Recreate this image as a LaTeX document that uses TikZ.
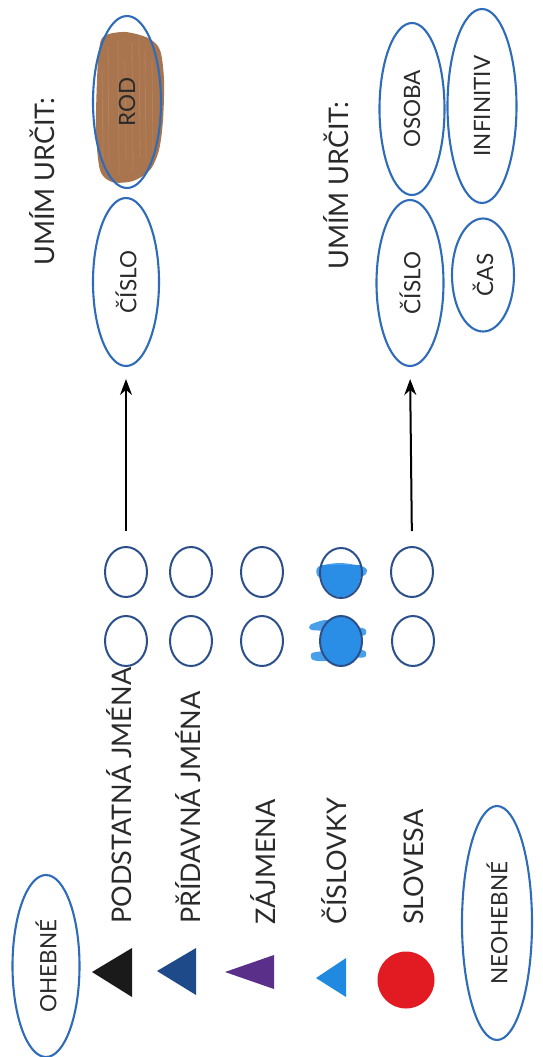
\documentclass[tikz,border=0pt]{standalone}
\usepackage{fontspec}
\setmainfont{Lato}
\usetikzlibrary{shapes.geometric,arrows.meta}
\definecolor{ellc}{HTML}{2E6BB8}
\definecolor{dotc}{HTML}{2B4F8A}
\definecolor{txt}{HTML}{2A2A2A}
\definecolor{brownc}{HTML}{A9754F}
\definecolor{brownl}{HTML}{C9987A}
\definecolor{triA}{HTML}{1A1A1A}
\definecolor{triB}{HTML}{1F4A8A}
\definecolor{triC}{HTML}{5A2F8A}
\definecolor{triD}{HTML}{1F8AE0}
\definecolor{redc}{HTML}{E21B22}
\definecolor{scrib}{HTML}{2A8EE6}
\begin{document}
\begin{tikzpicture}[x=1pt,y=-1pt,
  oval/.style={ellipse,draw=ellc,line width=2.1pt,inner sep=0pt,text=txt,font=\fontsize{22.5}{24}\selectfont},
  dot/.style={ellipse,draw=dotc,line width=2pt,minimum width=42pt,minimum height=50pt,inner sep=0pt},
  lbl/.style={rotate=90,anchor=base west,inner sep=0pt,text=txt,font=\fontsize{27}{29}\selectfont},
  arr/.style={line width=2pt,-{Stealth[length=16pt,width=12pt]},shorten <=15pt,shorten >=12pt}
]
\useasboundingbox (0,0) rectangle (542,1057);

% brown colouring of ROD
\fill[brownc] plot[smooth cycle] coordinates {(104,36) (125,32) (148,38) (160,50) (164,80) (163,120) (159,150) (150,170) (133,181) (112,182) (100,170) (96,130) (97,80) (99,50)};
\foreach \xx/\yy/\ll in {108/45/120, 118/40/135, 132/42/130, 145/50/110, 152/60/95, 102/70/90, 125/60/100, 139/38/120}
  \draw[brownl,line width=0.8pt,opacity=0.35] (\xx,\yy) -- ++(1,\ll);

% top: nouns
\node[lbl] (umim1) at (54,266) {UMÍM URČIT:};
\node[oval,minimum width=68pt,minimum height=172pt] (rod) at (127,102) {\rotatebox{90}{ROD}};
\node[oval,minimum width=66pt,minimum height=168pt] (cislo1) at (126,282) {\rotatebox{90}{ČÍSLO}};

% top: verbs
\node[lbl] (umim2) at (348,270) {UMÍM URČIT:};
\node[oval,minimum width=65pt,minimum height=172pt] (osoba) at (412,109) {\rotatebox{90}{OSOBA}};
\node[oval,minimum width=69pt,minimum height=194pt] (infinitiv) at (482,106) {\rotatebox{90}{INFINITIV}};
\node[oval,minimum width=67pt,minimum height=166pt] (cislo2) at (410,283) {\rotatebox{90}{ČÍSLO}};
\node[oval,minimum width=62pt,minimum height=113pt] (cas) at (483,275) {\rotatebox{90}{ČAS}};

% blue scribbles (column 4)
\begin{scope}
  \clip (341,573) ellipse [x radius=20pt,y radius=24pt];
  \fill[scrib] (315,565) rectangle (367,600);
\end{scope}
\fill[scrib,opacity=0.85] plot[smooth cycle] coordinates {(318,567) (340,563) (364,567) (366,574) (350,580) (320,578)};
\fill[scrib] (341,641) ellipse [x radius=21pt,y radius=25pt];
\fill[scrib,opacity=0.85] plot[smooth cycle] coordinates {(310,625) (325,620) (338,623) (334,630) (312,630)};
\fill[scrib,opacity=0.85] plot[smooth cycle] coordinates {(312,653) (330,651) (338,656) (328,661) (313,660)};
\fill[scrib,opacity=0.85] plot[smooth cycle] coordinates {(352,627) (365,629) (365,635) (353,635)};
\fill[scrib,opacity=0.85] plot[smooth cycle] coordinates {(352,649) (365,651) (365,657) (353,657)};

% circles
\node[dot] (c1a) at (126,572) {};
\node[dot] (c1b) at (126,641) {};
\node[dot] (c2a) at (191,572) {};
\node[dot] (c2b) at (191,641) {};
\node[dot] (c3a) at (262,572) {};
\node[dot] (c3b) at (262,641) {};
\node[dot] (c4a) at (341,573) {};
\node[dot] (c4b) at (341,641) {};
\node[dot] (c5a) at (412,572) {};
\node[dot] (c5b) at (413,641) {};

% arrows
\draw[arr] (c1a.north) -- (cislo1.south);
\draw[arr] (c5a.north) -- (cislo2.south);

% word classes
\node[lbl] (podst) at (131,924) {PODSTATNÁ JMÉNA};
\node[lbl] (prid) at (200,924) {PŘÍDAVNÁ JMÉNA};
\node[lbl] (zajm) at (275,925) {ZÁJMENA};
\node[lbl] (cislovky) at (346,925) {ČÍSLOVKY};
\node[lbl] (slovesa) at (423,925) {SLOVESA};

\fill[triA] (92,972) -- (132,948) -- (132,997) -- cycle;
\fill[triB] (157,971) -- (196,948) -- (196,995) -- cycle;
\fill[triC] (225,972) -- (274,955) -- (274,989) -- cycle;
\fill[triD] (316,978) -- (346,958) -- (346,997) -- cycle;
\fill[redc] (406,980) circle [radius=28.5pt];

\node[oval,minimum width=67pt,minimum height=182pt] (ohebne) at (46,966) {\rotatebox{90}{OHEBNÉ}};
\node[oval,minimum width=70pt,minimum height=234pt] (neohebne) at (497,923) {\rotatebox{90}{NEOHEBNÉ}};
\end{tikzpicture}
\end{document}
